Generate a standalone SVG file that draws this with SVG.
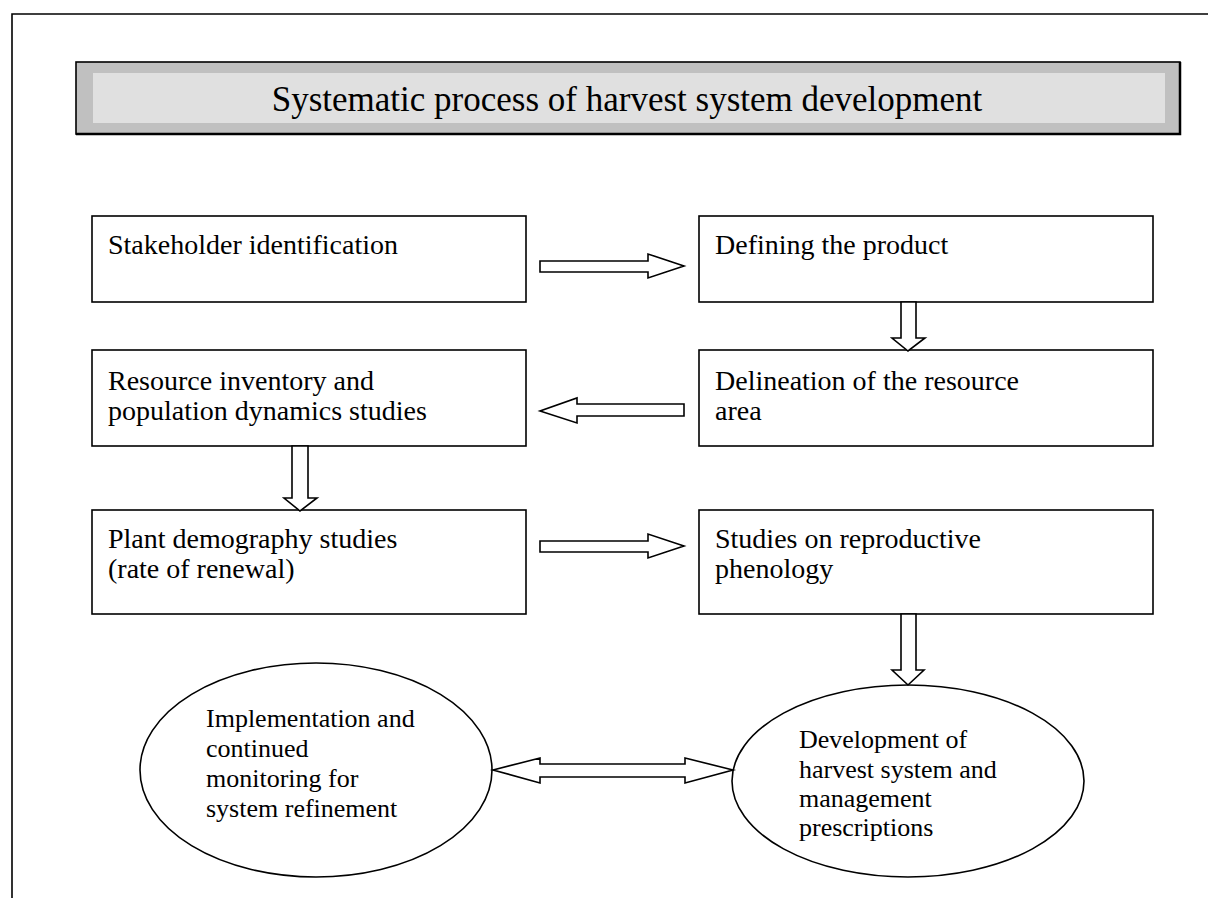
<svg xmlns="http://www.w3.org/2000/svg" width="1208" height="898" viewBox="0 0 1208 898">
<style>
.box{fill:#fff;stroke:#000;stroke-width:1.6}
.t{font-family:"Liberation Serif","Times New Roman",serif;font-size:28px;fill:#000}
.e{font-family:"Liberation Serif","Times New Roman",serif;font-size:26px;fill:#000}
.ar{fill:#fff;stroke:#000;stroke-width:1.6;stroke-linejoin:miter}
</style>
<rect width="1208" height="898" fill="#fff"/>
<path d="M12,898 V14 H1208" fill="none" stroke="#000" stroke-width="1.6"/>
<g id="title">
<rect x="76" y="62" width="1104" height="72" fill="#c0c0c0" stroke="#000" stroke-width="1.6"/>
<path d="M1180,62 V134 H76" fill="none" stroke="#000" stroke-width="2.5"/>
<rect x="93" y="73" width="1072" height="50" fill="#e0e0e0"/>
<text x="627" y="111" text-anchor="middle" font-family="Liberation Serif, Times New Roman, serif" font-size="35">Systematic process of harvest system development</text>
</g>
<g id="stakeholder"><rect class="box" x="92" y="216" width="434" height="86"/><text class="t" x="108" y="254">Stakeholder identification</text></g>
<g id="product"><rect class="box" x="699" y="216" width="454" height="86"/><text class="t" x="715" y="254">Defining the product</text></g>
<g id="inventory"><rect class="box" x="92" y="350" width="434" height="96"/><text class="t" x="108" y="390">Resource inventory and</text><text class="t" x="108" y="420">population dynamics studies</text></g>
<g id="delineation"><rect class="box" x="699" y="350" width="454" height="96"/><text class="t" x="715" y="390">Delineation of the resource</text><text class="t" x="715" y="420">area</text></g>
<g id="demography"><rect class="box" x="92" y="510" width="434" height="104"/><text class="t" x="108" y="548">Plant demography studies</text><text class="t" x="108" y="578">(rate of renewal)</text></g>
<g id="phenology"><rect class="box" x="699" y="510" width="454" height="104"/><text class="t" x="715" y="548">Studies on reproductive</text><text class="t" x="715" y="578">phenology</text></g>
<g id="implementation"><ellipse cx="316" cy="770" rx="176" ry="107" fill="#fff" stroke="#000" stroke-width="1.6"/><text class="e" x="206" y="727">Implementation and</text><text class="e" x="206" y="757">continued</text><text class="e" x="206" y="787">monitoring for</text><text class="e" x="206" y="817">system refinement</text></g>
<g id="development"><ellipse cx="908" cy="781" rx="176" ry="96" fill="#fff" stroke="#000" stroke-width="1.6"/><text class="e" x="799" y="748">Development of</text><text class="e" x="799" y="778">harvest system and</text><text class="e" x="799" y="807">management</text><text class="e" x="799" y="836">prescriptions</text></g>
<g id="connectors">
<polygon class="ar" points="540,261 648,261 648,254 684,266 648,278 648,272 540,272"/>
<polygon class="ar" points="901,302 916,302 916,338 925,338 908,351 892,338 901,338"/>
<polygon class="ar" points="684,404 577,404 577,398 540,411 577,423 577,416 684,416"/>
<polygon class="ar" points="292,446 308,446 308,498 317,498 300,511 284,498 292,498"/>
<polygon class="ar" points="540,541 648,541 648,534 684,546 648,558 648,552 540,552"/>
<polygon class="ar" points="901,614 916,614 916,670 924,670 908,685 892,670 901,670"/>
<polygon class="ar" points="493,770 540,758 540,764 685,764 685,758 733,770 685,783 685,777 540,777 540,783"/>
</g>
</svg>
